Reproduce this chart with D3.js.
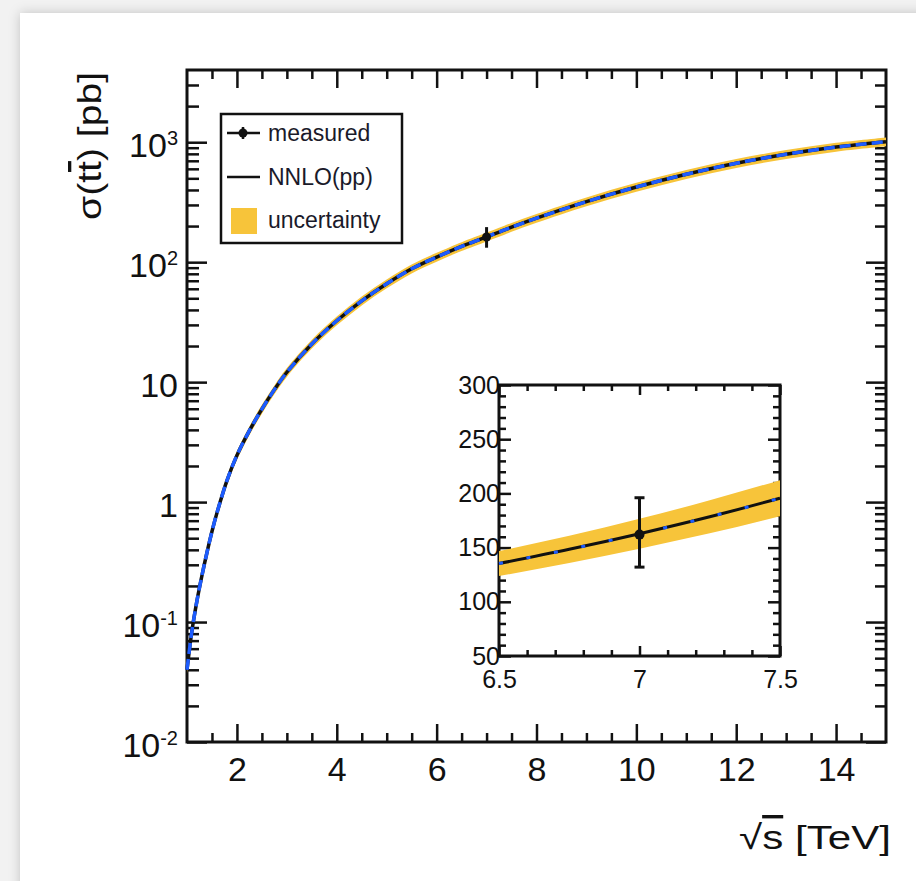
<!DOCTYPE html>
<html><head><meta charset="utf-8">
<script src="https://cdn.jsdelivr.net/npm/d3@7"></script>
<style>html,body{margin:0;padding:0;background:#f2f2f2;}svg{display:block;}</style>
</head><body>
<script>
// ---- data ----
const sqrtS = [1.0,1.1,1.2,1.3,1.4,1.5,1.6,1.8,2.0,2.25,2.5,2.75,3.0,3.5,4.0,4.5,5.0,5.5,6.0,6.5,6.75,7.0,7.25,7.5,8,9,10,11,12,13,14,15];
const sigmaNNLO = [0.040,0.0851,0.151,0.245,0.380,0.569,0.813,1.51,2.45,3.94,5.96,8.66,12.09,20.8,32.5,47.6,66.1,88.1,110.3,135.3,148.4,162.8,178.4,195.6,232.6,319.6,423.2,540,667.5,793.4,911,1010];
const sigmaLow = [0.0366,0.0779,0.1382,0.2242,0.3477,0.5206,0.7439,1.382,2.242,3.605,5.453,7.924,11.06,19.03,29.74,43.55,60.48,80.61,100.9,123.8,135.8,149.0,163.2,179.0,212.8,292.4,387.2,494.1,610.8,726.0,833.6,924.2];
const sigmaHigh = [0.0434,0.0923,0.1638,0.2658,0.4123,0.6174,0.8821,1.638,2.658,4.275,6.467,9.396,13.12,22.57,35.26,51.65,71.72,95.59,119.7,146.8,161.0,176.6,193.6,212.2,252.4,346.8,459.2,585.9,724.2,860.8,988.4,1095.9];
const measuredX = [7];
const measuredY = [162];
const measuredLo = [132];
const measuredHi = [196];

const xMajor = [2,4,6,8,10,12,14];
const yMajor = [0.01,0.1,1,10,100,1000];
const yTickBase = ["10","10","1","10","10","10"];
const yTickExp = ["-2","-1","","","2","3"];
const insetXMajor = [6.5,7,7.5];
const insetXLabels = ["6.5","7","7.5"];
const insetYMajor = [50,100,150,200,250,300];
const legendLabels = ["measured","NNLO(pp)","uncertainty"];

// ---- layout ----
const W = 916, H = 881;
const F = "'Liberation Sans', Arial, Helvetica, sans-serif";
const X0 = 187, X1 = 886, Y0 = 70, Y1 = 742;
const IX0 = 499, IX1 = 780, IY0 = 385, IY1 = 656;
const YELLOW = "#f7c43a", BLUE = "#1d5cff", INK = "#111";

const data = sqrtS.map((s,i)=>({s, c:sigmaNNLO[i], lo:sigmaLow[i], hi:sigmaHigh[i]}));

const svg = d3.select("body").append("svg").attr("width",W).attr("height",H);
const defs = svg.append("defs");
const f = defs.append("filter").attr("id","sh").attr("x","-5%").attr("y","-5%").attr("width","110%").attr("height","110%");
f.append("feDropShadow").attr("dx",0).attr("dy",0).attr("stdDeviation",6).attr("flood-color","#000").attr("flood-opacity",0.2);
defs.append("clipPath").attr("id","mainClip").append("rect").attr("x",X0-2).attr("y",Y0).attr("width",X1-X0+4).attr("height",Y1-Y0);
defs.append("clipPath").attr("id","insetClip").append("rect").attr("x",IX0-1).attr("y",IY0).attr("width",IX1-IX0+3).attr("height",IY1-IY0);

svg.append("rect").attr("width",W).attr("height",H).attr("fill","#f2f2f2");
svg.append("rect").attr("x",20).attr("y",13).attr("width",W).attr("height",H+20).attr("fill","#fff").attr("filter","url(#sh)");

const x = d3.scaleLinear().domain([1,15]).range([X0,X1]);
const y = d3.scaleLog().domain([0.01,4000]).range([Y1,Y0]);

function styleAxis(g, fs){
  g.attr("font-family",F).attr("font-size",fs).attr("color",INK);
  g.select(".domain").remove();
  g.selectAll("line").attr("stroke-width",2.5);
}

// ---- main axes ----
const xMinor = d3.range(1.5,15,0.5).filter(v=>v%2!==0);
const yMinor = [];
[0.01,0.1,1,10,100,1000].forEach(dec=>{ for(let k=2;k<=9;k++){ const v=dec*k; if(v<4000) yMinor.push(+v.toPrecision(3)); }});

const gx = svg.append("g").attr("transform",`translate(0,${Y1})`)
  .call(d3.axisBottom(x).tickValues(xMajor).tickSize(-18).tickPadding(15).tickFormat(d3.format("d")));
styleAxis(gx,34);
styleAxis(svg.append("g").attr("transform",`translate(0,${Y1})`).call(d3.axisBottom(x).tickValues(xMinor).tickSize(-9).tickFormat("")),10);
styleAxis(svg.append("g").attr("transform",`translate(0,${Y0})`).call(d3.axisTop(x).tickValues(xMajor).tickSize(-18).tickFormat("")),10);
styleAxis(svg.append("g").attr("transform",`translate(0,${Y0})`).call(d3.axisTop(x).tickValues(xMinor).tickSize(-9).tickFormat("")),10);

const gy = svg.append("g").attr("transform",`translate(${X0},0)`)
  .call(d3.axisLeft(y).tickValues(yMajor).tickSize(-20).tickPadding(9).tickFormat((d,i)=>yTickBase[i]));
styleAxis(gy,34);
gy.selectAll(".tick text").attr("dy","0.42em").each(function(d,i){
  if(yTickExp[i]) d3.select(this).append("tspan").attr("dy",-12).attr("font-size",20).text(yTickExp[i]);
});
styleAxis(svg.append("g").attr("transform",`translate(${X0},0)`).call(d3.axisLeft(y).tickValues(yMinor).tickSize(-12).tickFormat("")),10);
styleAxis(svg.append("g").attr("transform",`translate(${X1},0)`).call(d3.axisRight(y).tickValues(yMajor).tickSize(-20).tickFormat("")),10);
styleAxis(svg.append("g").attr("transform",`translate(${X1},0)`).call(d3.axisRight(y).tickValues(yMinor).tickSize(-11).tickFormat("")),10);

svg.append("rect").attr("x",X0).attr("y",Y0).attr("width",X1-X0).attr("height",Y1-Y0)
  .attr("fill","none").attr("stroke",INK).attr("stroke-width",3);

// ---- main curve ----
const main = svg.append("g").attr("clip-path","url(#mainClip)");
main.append("path").datum(data).attr("fill",YELLOW)
  .attr("d",d3.area().x(d=>x(d.s)).y0(d=>y(d.lo)).y1(d=>y(d.hi)).curve(d3.curveCatmullRom));
const lineMain = d3.line().x(d=>x(d.s)).y(d=>y(d.c)).curve(d3.curveCatmullRom);
main.append("path").datum(data).attr("fill","none").attr("stroke",INK).attr("stroke-width",3.5).attr("d",lineMain);
main.append("path").datum(data).attr("fill","none").attr("stroke",BLUE).attr("stroke-width",3.5)
  .attr("stroke-dasharray","11,5").attr("d",lineMain);

const meas = measuredX.map((s,i)=>({s, v:measuredY[i], lo:measuredLo[i], hi:measuredHi[i]}));
svg.selectAll(".mbar").data(meas).enter().append("line")
  .attr("x1",d=>x(d.s)).attr("x2",d=>x(d.s)).attr("y1",d=>y(d.lo)).attr("y2",d=>y(d.hi))
  .attr("stroke",INK).attr("stroke-width",3);
svg.selectAll(".mpt").data(meas).enter().append("circle")
  .attr("cx",d=>x(d.s)).attr("cy",d=>y(d.v)).attr("r",4.5).attr("fill",INK);

// ---- legend ----
const lg = svg.append("g");
lg.append("rect").attr("x",221).attr("y",114).attr("width",181).attr("height",129)
  .attr("fill","#fff").attr("stroke",INK).attr("stroke-width",2.5);
const rowsY = [133,177,220];
lg.append("line").attr("x1",227).attr("x2",260).attr("y1",rowsY[0]).attr("y2",rowsY[0]).attr("stroke",INK).attr("stroke-width",2.5);
lg.append("line").attr("x1",243).attr("x2",243).attr("y1",rowsY[0]-6).attr("y2",rowsY[0]+6).attr("stroke",INK).attr("stroke-width",2.5);
lg.append("circle").attr("cx",243).attr("cy",rowsY[0]).attr("r",4.5).attr("fill",INK);
lg.append("line").attr("x1",227).attr("x2",260).attr("y1",rowsY[1]).attr("y2",rowsY[1]).attr("stroke",INK).attr("stroke-width",2.5);
lg.append("rect").attr("x",231).attr("y",rowsY[2]-12).attr("width",26).attr("height",26).attr("fill",YELLOW);
lg.selectAll("text.lt").data(legendLabels).enter().append("text")
  .attr("x",268).attr("y",(d,i)=>rowsY[i]+8).attr("font-family",F).attr("font-size",23).attr("fill","#1a1a2a").text(d=>d);

// ---- axis titles ----
const xt = svg.append("text").attr("x",891).attr("y",849).attr("text-anchor","end")
  .attr("font-family",F).attr("font-size",34).attr("fill",INK)
  .attr("textLength",152).attr("lengthAdjust","spacingAndGlyphs");
xt.append("tspan").text("√");
xt.append("tspan").style("text-decoration","overline").text("s");
xt.append("tspan").text(" [TeV]");

const yt = svg.append("text").attr("transform","translate(101,72) rotate(-90)").attr("text-anchor","end")
  .attr("font-family",F).attr("font-size",33).attr("fill",INK)
  .attr("textLength",148).attr("lengthAdjust","spacingAndGlyphs");
yt.append("tspan").text("σ(t");
yt.append("tspan").style("text-decoration","overline").text("t");
yt.append("tspan").text(") [pb]");

// ---- inset ----
const xi = d3.scaleLinear().domain([6.5,7.5]).range([IX0,IX1]);
const yi = d3.scaleLinear().domain([50,300]).range([IY1,IY0]);
svg.append("rect").attr("x",IX0).attr("y",IY0).attr("width",IX1-IX0).attr("height",IY1-IY0).attr("fill","#fff");

const ixMinor = d3.range(6.6,7.45,0.1).map(v=>+v.toFixed(1)).filter(v=>v!==7);
const iyMinor = d3.range(60,300,10).filter(v=>v%50!==0);

const gix = svg.append("g").attr("transform",`translate(0,${IY1})`)
  .call(d3.axisBottom(xi).tickValues(insetXMajor).tickSize(-10).tickPadding(14).tickFormat((d,i)=>insetXLabels[i]));
styleAxis(gix,25);
styleAxis(svg.append("g").attr("transform",`translate(0,${IY1})`).call(d3.axisBottom(xi).tickValues(ixMinor).tickSize(-6).tickFormat("")),10);
styleAxis(svg.append("g").attr("transform",`translate(0,${IY0})`).call(d3.axisTop(xi).tickValues(insetXMajor).tickSize(-10).tickFormat("")),10);
styleAxis(svg.append("g").attr("transform",`translate(0,${IY0})`).call(d3.axisTop(xi).tickValues(ixMinor).tickSize(-6).tickFormat("")),10);
const giy = svg.append("g").attr("transform",`translate(${IX0},0)`)
  .call(d3.axisLeft(yi).tickValues(insetYMajor).tickSize(-12).tickPadding(-1).tickFormat(d3.format("d")));
styleAxis(giy,25);
styleAxis(svg.append("g").attr("transform",`translate(${IX0},0)`).call(d3.axisLeft(yi).tickValues(iyMinor).tickSize(-7).tickFormat("")),10);
styleAxis(svg.append("g").attr("transform",`translate(${IX1},0)`).call(d3.axisRight(yi).tickValues(insetYMajor).tickSize(-12).tickFormat("")),10);
styleAxis(svg.append("g").attr("transform",`translate(${IX1},0)`).call(d3.axisRight(yi).tickValues(iyMinor).tickSize(-7).tickFormat("")),10);
svg.append("rect").attr("x",IX0).attr("y",IY0).attr("width",IX1-IX0).attr("height",IY1-IY0)
  .attr("fill","none").attr("stroke",INK).attr("stroke-width",3);

const idata = data.filter(d=>d.s>=6.5 && d.s<=7.5);
const ins = svg.append("g").attr("clip-path","url(#insetClip)");
ins.append("path").datum(idata).attr("fill",YELLOW)
  .attr("d",d3.area().x(d=>xi(d.s)).y0(d=>yi(d.lo)).y1(d=>yi(d.hi)).curve(d3.curveMonotoneX));
const lineIn = d3.line().x(d=>xi(d.s)).y(d=>yi(d.c)).curve(d3.curveMonotoneX);
ins.append("path").datum(idata).attr("fill","none").attr("stroke",INK).attr("stroke-width",3).attr("d",lineIn);
ins.append("path").datum(idata).attr("fill","none").attr("stroke",BLUE).attr("stroke-width",3)
  .attr("stroke-dasharray","4,24").attr("d",lineIn);

const ie = svg.append("g");
meas.forEach(d=>{
  ie.append("line").attr("x1",xi(d.s)).attr("x2",xi(d.s)).attr("y1",yi(d.lo)).attr("y2",yi(d.hi)).attr("stroke",INK).attr("stroke-width",3);
  ie.append("line").attr("x1",xi(d.s)-5).attr("x2",xi(d.s)+5).attr("y1",yi(d.lo)).attr("y2",yi(d.lo)).attr("stroke",INK).attr("stroke-width",3);
  ie.append("line").attr("x1",xi(d.s)-5).attr("x2",xi(d.s)+5).attr("y1",yi(d.hi)).attr("y2",yi(d.hi)).attr("stroke",INK).attr("stroke-width",3);
  ie.append("circle").attr("cx",xi(d.s)).attr("cy",yi(d.v)).attr("r",5).attr("fill",INK);
});
</script>
</body></html>
